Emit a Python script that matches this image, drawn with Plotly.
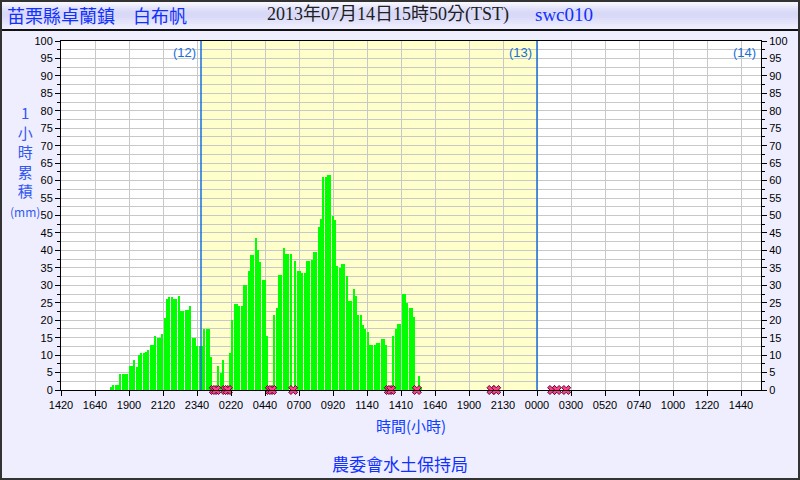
import plotly.graph_objects as go
import pandas as pd

# ---------------- data ----------------
station = "苗栗縣卓蘭鎮　白布帆"
timestamp = "2013年07月14日15時50分(TST)"
station_id = "swc010"
agency = "農委會水土保持局"
y_title_chars = ["1", "小", "時", "累", "積", "(mm)"]
x_title = "時間(小時)"

first_slot = "2013-07-12 17:30"
slot_minutes = 10

# 1-hour accumulated rainfall (mm), one value every 10 minutes; None = missing
rain_day12 = [0.8, 1.4, 1.4, 1.4, 4.6, 4.6, 4.6, 4.6, 6.9, 6.9, 8.6, 6.5, 10.0,
              10.6, 10.6, 10.9, 11.5, 12.9, 12.9, 15.5, 14.9, 14.9, 16.0, 20.7,
              26.1, 26.6, 26.6, 26.1, 26.1, 26.8, 22.6, 22.6, 22.9, 22.9, 24.1,
              15.0, 15.0, 12.6, 12.6]
rain_day13 = [12.6, 17.5, 17.5, 17.5, 9.4, None, None, 6.9, 5.0, 8.6, None, None,
              10.6, 20.1, 24.6, 24.6, 24.1, 24.1, 30.1, 30.1, 34.1, 38.7, 38.7,
              43.6, 40.1, 36.7, 31.6, 31.6, 15.5, None, None, 21.5, 23.6, 33.0,
              33.0, 40.7, 39.0, 39.0, 39.0, None, 37.1, 34.1, 34.1, 33.4, 33.4,
              37.1, 37.1, 37.2, 39.5, 39.5, 46.7, 49.0, 61.0, 61.0, 61.5, 61.5,
              50.0, 48.7, 35.5, 35.0, 36.1, 36.1, 32.7, 25.5, 25.5, 28.9, 26.9,
              21.5, 21.5, 18.6, 17.5, 16.6, 12.9, 12.9, 12.9, 13.4, 13.5, 14.6,
              14.6, 12.9, None, None, 15.5, 17.5, 18.9, 18.9, 27.5, 27.5, 24.9,
              23.6, 23.6, 20.9, None, 4.0, 1.0]
extra_missing = ["2013-07-13 20:40", "2013-07-13 21:00",
                 "2013-07-14 01:00", "2013-07-14 01:20", "2013-07-14 02:00"]

day_starts = ["2013-07-13 00:00", "2013-07-14 00:00"]
day_labels = ["(12)", "(13)", "(14)"]

x_start = "2013-07-12 14:00"
x_end = "2013-07-14 16:00"
tick_labels = ["1420", "1640", "1900", "2120", "2340", "0220", "0440", "0700",
               "0920", "1140", "1410", "1640", "1900", "2130", "0000", "0300",
               "0520", "0740", "1000", "1220", "1440"]

# ---------------- derived ----------------
values = rain_day12 + rain_day13
slot = pd.Timedelta(minutes=slot_minutes)
times = pd.date_range(first_slot, periods=len(values), freq=slot)
missing = [t for t, v in zip(times, values) if v is None] + list(pd.to_datetime(extra_missing))
marker_x = [t + slot / 2 for t in missing]

tick_step = pd.Timedelta(hours=34 / 14)
tick_times = [pd.Timestamp(x_start) + i * tick_step for i in range(len(tick_labels))]

# plot-area geometry in pixels (for paper-referenced decorations)
L, R, T, B = 61, 761, 41, 390
W, H = 800, 480


def px(x):
    return (x - L) / (R - L)


def py(y):
    return (B - y) / (B - T)


fig = go.Figure()
fig.add_trace(go.Bar(
    x=times, y=values, offset=0, width=slot.total_seconds() * 1000 * 0.86,
    marker=dict(color="#00ff00", line=dict(width=0)), hoverinfo="skip"))
fig.add_trace(go.Scatter(
    x=marker_x, y=[0] * len(marker_x), mode="markers", cliponaxis=False,
    marker=dict(symbol="x", size=8, color="#ff3d8e",
                line=dict(color="#5a0a2a", width=1)),
    hoverinfo="skip"))
fig.add_trace(go.Scatter(x=[x_start], y=[None], yaxis="y2", mode="markers",
                         hoverinfo="skip"))

shapes = []
# yellow day-13 band
shapes.append(dict(type="rect", xref="x", yref="paper", x0=day_starts[0], x1=day_starts[1],
                   y0=0, y1=1, fillcolor="#ffffcc", line=dict(width=0), layer="below"))
for d in day_starts:
    shapes.append(dict(type="line", xref="x", yref="paper", x0=d, x1=d, y0=0, y1=1,
                       line=dict(color="#1a6fd8", width=1.5), layer="above"))

# title bar gradient
grad = ["#f6f6ff", "#efeffe", "#e8e8fc", "#e1e1fa", "#dcdcf8", "#d8d8f7",
        "#d8d8f7", "#dadaf8", "#dedef9", "#e2e2fa", "#e6e6fb", "#eaeafc",
        "#ededfd", "#f0f0fe"]
for i, c in enumerate(grad):
    shapes.append(dict(type="rect", xref="paper", yref="paper",
                       x0=px(0), x1=px(W), y0=py(2 + 2 * i), y1=py(4 + 2 * i),
                       fillcolor=c, line=dict(width=0), layer="below"))
shapes.append(dict(type="line", xref="paper", yref="paper", x0=px(0), x1=px(W),
                   y0=py(30), y1=py(30), line=dict(color="#111111", width=2)))
shapes.append(dict(type="rect", xref="paper", yref="paper", x0=px(1), x1=px(W - 1),
                   y0=py(H - 1), y1=py(1), line=dict(color="#333333", width=2),
                   fillcolor="rgba(0,0,0,0)"))

cjk = "Noto Sans CJK TC"
serif = "Liberation Serif, Noto Sans CJK TC"
ann = []
ann.append(dict(text=station, x=px(5), y=py(15), xanchor="left", yanchor="middle",
                font=dict(family=cjk, size=18, color="#1030ff")))
ann.append(dict(text=timestamp, x=px(265), y=py(15), xanchor="left", yanchor="middle",
                font=dict(family=serif, size=18, color="#202020")))
ann.append(dict(text=station_id, x=px(533), y=py(15), xanchor="left", yanchor="middle",
                font=dict(family=serif, size=19, color="#1030ff")))
ytitle = "<br>".join(y_title_chars[:-1]) + \
    "<br><span style='font-size:12px'>" + y_title_chars[-1] + "</span>"
ann.append(dict(text=ytitle, x=px(25), y=py(161), xanchor="center",
                yanchor="middle", font=dict(family=cjk, size=15, color="#3358f0")))
ann.append(dict(text=x_title, x=px(411), y=py(425), xanchor="center", yanchor="middle",
                font=dict(family=cjk, size=15, color="#1040ff")))
ann.append(dict(text=agency, x=px(400), y=py(463), xanchor="center", yanchor="middle",
                font=dict(family=cjk, size=17, color="#1030ff")))
label_pos = day_starts + [x_end]
for lab, xp in zip(day_labels, label_pos):
    ann.append(dict(text=lab, x=xp, xref="x", y=py(52), xanchor="right", yanchor="middle",
                    xshift=-3, font=dict(family="Liberation Sans, Arial", size=13,
                                         color="#1a6fd8")))
for a in ann:
    a.setdefault("xref", "paper")
    a["yref"] = "paper"
    a["showarrow"] = False

tickfont = dict(family="Liberation Sans, Arial", size=11, color="black")
yaxis_common = dict(range=[0, 100], tick0=0, dtick=5, ticks="outside", ticklen=5,
                    tickcolor="black", tickfont=tickfont, zeroline=False,
                    showline=True, linecolor="black", linewidth=1, fixedrange=True)

fig.update_layout(
    width=W, height=H, autosize=False,
    margin=dict(l=L, r=W - R, t=T, b=H - B, pad=0),
    paper_bgcolor="#eeeeff", plot_bgcolor="white",
    showlegend=False, bargap=0,
    xaxis=dict(type="date", range=[x_start, x_end], tickmode="array",
               tickvals=tick_times, ticktext=tick_labels, ticks="outside", ticklen=5,
               tickcolor="black", tickfont=tickfont, showgrid=True,
               gridcolor="#c8c8c8", gridwidth=1, showline=True, linecolor="black",
               linewidth=1, mirror=True, zeroline=False, fixedrange=True),
    yaxis=dict(**yaxis_common, showgrid=True, gridcolor="#c8c8c8", gridwidth=1,
               mirror=True,
               minor=dict(dtick=2.5, ticklen=3, tickcolor="black", ticks="outside",
                          showgrid=True, gridcolor="#c8c8c8", gridwidth=1)),
    yaxis2=dict(**yaxis_common, overlaying="y", side="right", showgrid=False,
                minor=dict(dtick=2.5, ticklen=3, tickcolor="black", ticks="outside",
                           showgrid=False)),
    shapes=shapes, annotations=ann,
)

fig.write_html("out.html", config={"displayModeBar": False, "staticPlot": True},
               post_script="document.body.style.margin='0';"
                           "document.body.style.padding='0';"
                           "document.body.style.overflow='hidden';")
